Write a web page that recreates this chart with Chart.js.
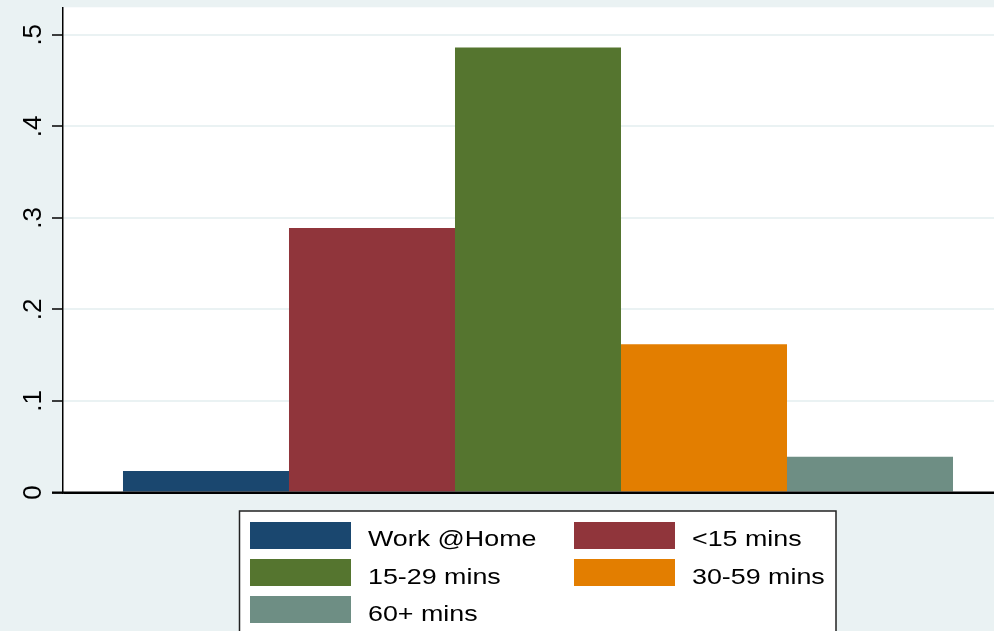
<!DOCTYPE html>
<html>
<head>
<meta charset="utf-8">
<script src="https://cdn.jsdelivr.net/npm/chart.js@4/dist/chart.umd.min.js"></script>
<style>
  html, body { margin: 0; padding: 0; background: #EAF2F3; overflow: hidden; }
  #wrap { width: 994px; height: 631px; overflow: hidden; position: relative; }
  #c { display: block; }
</style>
</head>
<body>
<div id="wrap"><canvas id="c" width="1013" height="631"></canvas></div>
<script>
// Commute time shares
const categories = ['Work @Home', '<15 mins', '15-29 mins', '30-59 mins', '60+ mins'];
const shares = [0.0235, 0.289, 0.486, 0.162, 0.039];
const colors = ['#1A476F', '#90353B', '#55752F', '#E37E00', '#6E8E84'];
const yTicks = [0, 0.1, 0.2, 0.3, 0.4, 0.5];
const yTickLabels = ['0', '.1', '.2', '.3', '.4', '.5'];

const BG = '#EAF2F3';

const datasets = categories.map((name, i) => ({
  label: name,
  data: [shares[i]],
  backgroundColor: colors[i],
  borderWidth: 0,
  barPercentage: 1,
  categoryPercentage: 0.8737
}));

// Page background and white plot region
const panels = {
  id: 'panels',
  beforeDraw(chart) {
    const { ctx, chartArea: a } = chart;
    ctx.save();
    ctx.fillStyle = BG;
    ctx.fillRect(0, 0, chart.width, chart.height);
    ctx.fillStyle = '#FFFFFF';
    ctx.fillRect(a.left, a.top, a.right - a.left, a.bottom - a.top);
    ctx.restore();
  }
};

// Zero baseline drawn over the bar bases
const baseline = {
  id: 'baseline',
  afterDatasetsDraw(chart) {
    const { ctx, chartArea: a, scales: { y } } = chart;
    const py = y.getPixelForValue(0);
    ctx.save();
    ctx.strokeStyle = '#000';
    ctx.lineWidth = 2;
    ctx.beginPath();
    ctx.moveTo(a.left - 11, py);
    ctx.lineTo(chart.width, py);
    ctx.stroke();
    ctx.restore();
  }
};

// Boxed two-column key below the plot
const keyBox = {
  id: 'keyBox',
  afterDraw(chart) {
    const { ctx } = chart;
    const box = { l: 239.5, t: 511, r: 836, b: 640 };
    ctx.save();
    ctx.fillStyle = '#FFFFFF';
    ctx.fillRect(box.l, box.t, box.r - box.l, box.b - box.t);
    ctx.strokeStyle = '#222';
    ctx.lineWidth = 1.5;
    ctx.strokeRect(box.l, box.t, box.r - box.l, box.b - box.t);

    const cols = [{ sx: 250, tx: 368 }, { sx: 574, tx: 692 }];
    const rowTop = [522, 559, 596];
    const baseLines = [546, 583.5, 621];
    chart.data.datasets.forEach((ds, i) => {
      const c = cols[i % 2];
      const r = Math.floor(i / 2);
      ctx.fillStyle = ds.backgroundColor;
      ctx.fillRect(c.sx, rowTop[r], 101, 27);
      ctx.save();
      ctx.translate(c.tx, baseLines[r]);
      ctx.scale(1.22, 1);
      ctx.fillStyle = '#000';
      ctx.font = '22px "Liberation Sans", Arial, sans-serif';
      ctx.textAlign = 'left';
      ctx.textBaseline = 'alphabetic';
      ctx.fillText(ds.label, 0, 0);
      ctx.restore();
    });
    ctx.restore();
  }
};

new Chart(document.getElementById('c'), {
  type: 'bar',
  data: { labels: [''], datasets },
  plugins: [panels, baseline, keyBox],
  options: {
    responsive: false,
    animation: false,
    layout: { padding: { top: 7.3, bottom: 138.5, left: 0, right: 0 } },
    plugins: { legend: { display: false }, tooltip: { enabled: false }, title: { display: false } },
    scales: {
      x: { display: false },
      y: {
        min: 0,
        max: 0.53,
        afterFit(scale) {
          scale.width = 63;
          scale.paddingTop = 0;
          scale.paddingBottom = 0;
        },
        afterBuildTicks(scale) { scale.ticks = yTicks.map(v => ({ value: v })); },
        border: { display: true, color: '#000', width: 1.5 },
        grid: {
          color: ctx => (ctx.tick && ctx.tick.value === 0) ? '#000' : BG,
          lineWidth: 2,
          drawTicks: true,
          tickLength: 11,
          tickColor: '#000',
          tickWidth: 1.5
        },
        ticks: {
          minRotation: 90,
          maxRotation: 90,
          crossAlign: 'center',
          padding: 7,
          color: '#000',
          font: { family: '"Liberation Sans", Arial, sans-serif', size: 26 },
          callback: (v, i) => yTickLabels[i]
        }
      }
    }
  }
});
</script>
</body>
</html>
